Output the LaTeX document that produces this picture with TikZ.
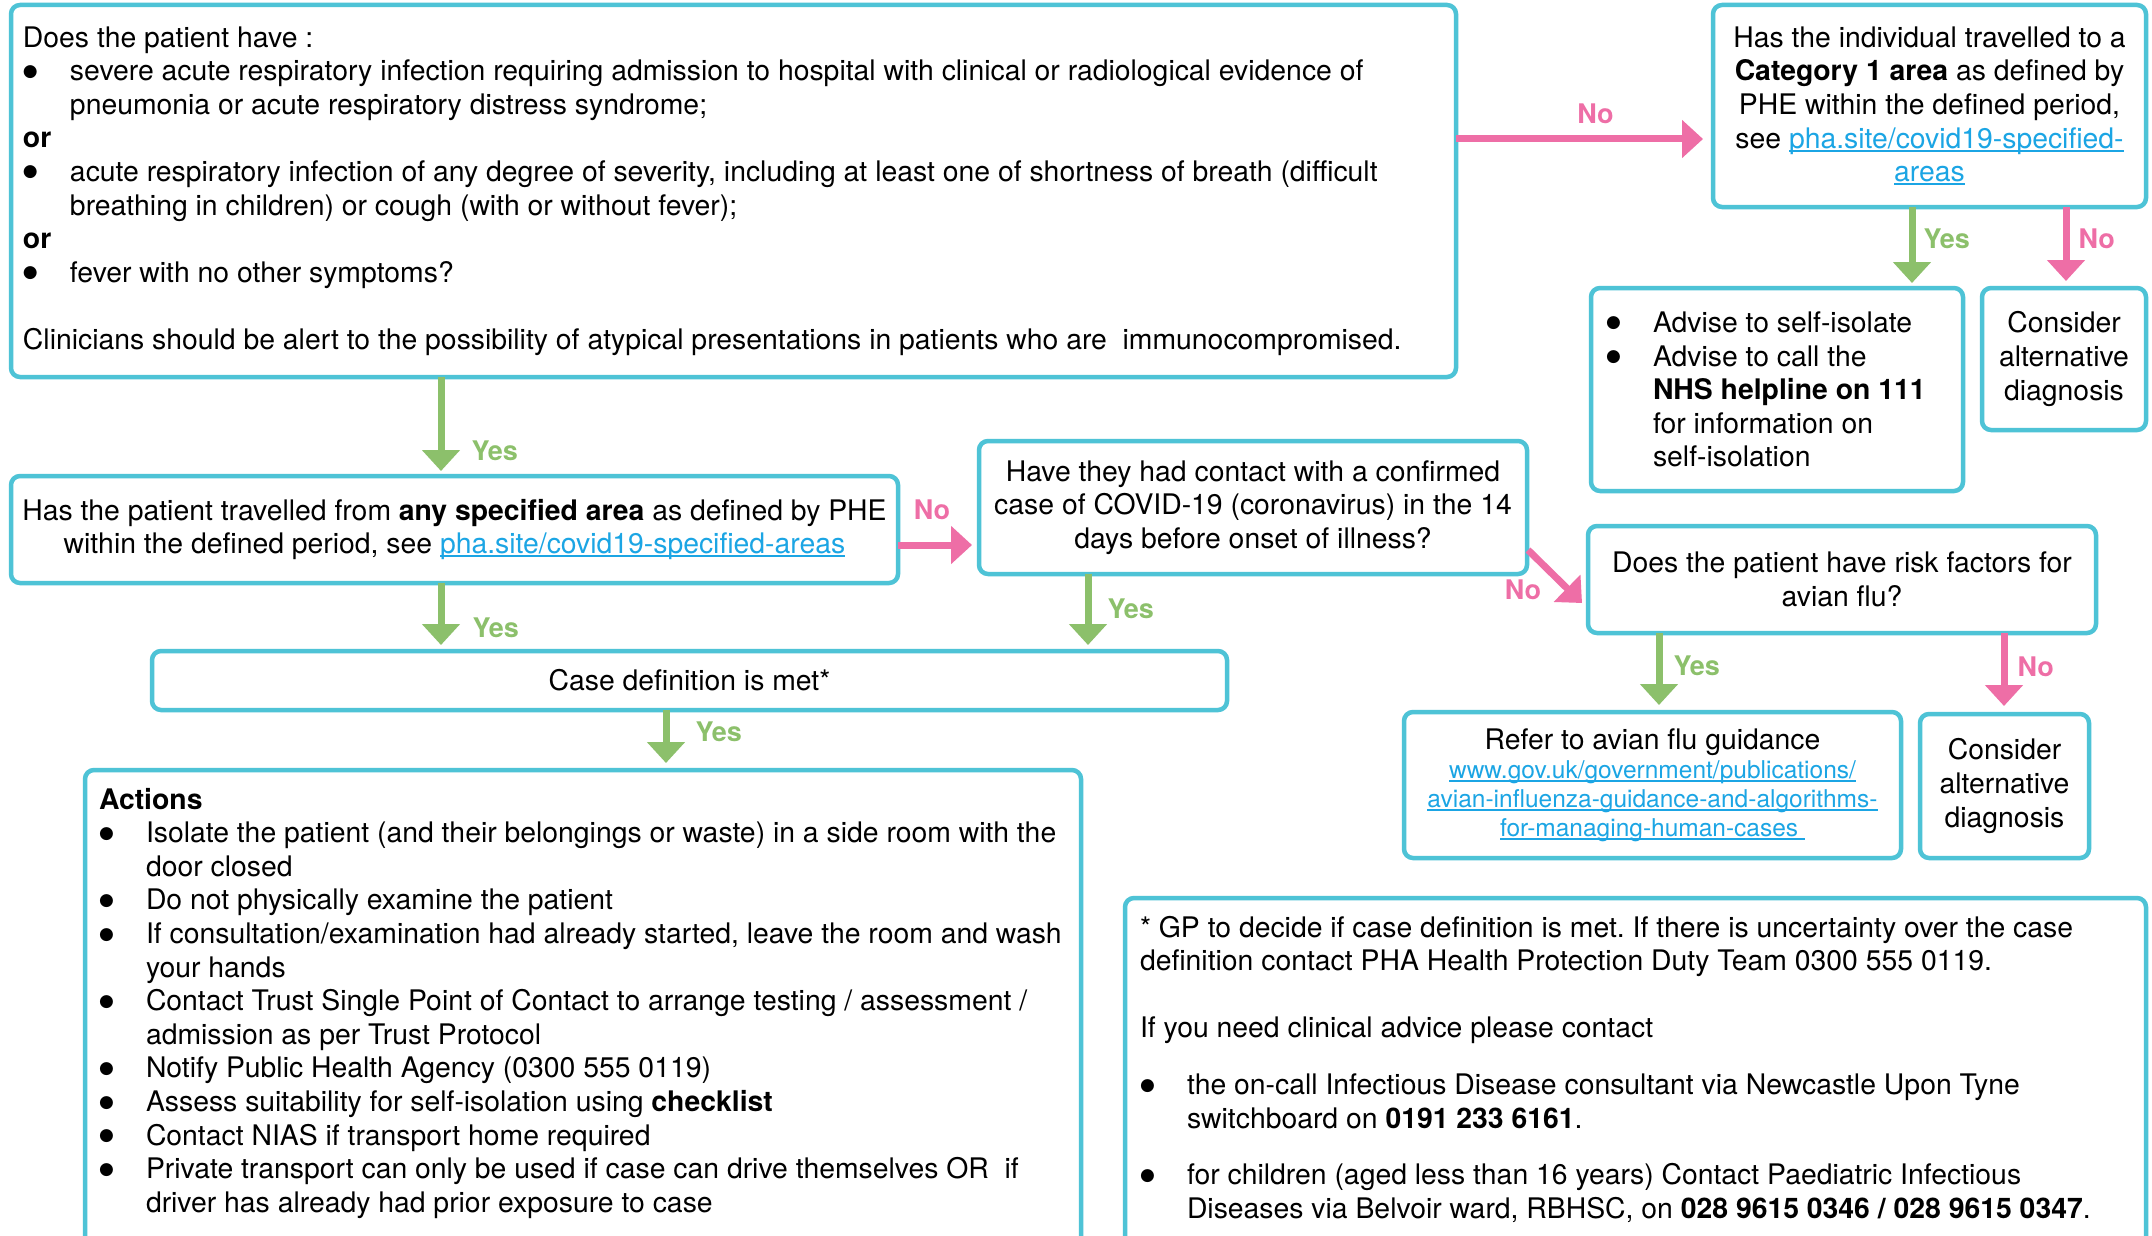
\documentclass[tikz,border=0pt]{standalone}
\usepackage{fontspec}
\setmainfont{TeX Gyre Heros}
\newfontfamily\dotfont{DejaVu Sans}
\usetikzlibrary{arrows.meta,calc}
\definecolor{boxcyan}{HTML}{4EC3D6}
\definecolor{nopink}{HTML}{EE6EA6}
\definecolor{yesgreen}{HTML}{8CC06B}
\definecolor{linkblue}{HTML}{1BA5E4}
\frenchspacing
\newcommand{\bodyfont}{\fontsize{28.35pt}{33.6pt}\selectfont}
\newcommand{\linkfont}{\fontsize{24.5pt}{29pt}\selectfont}
\newcommand{\bitem}[1]{\noindent\hangindent=47pt\hangafter=1\makebox[47pt][l]{\raisebox{4.5pt}{\dotfont\fontsize{17pt}{20pt}\selectfont ●}}#1\par}
\newcommand{\lnk}[1]{\textcolor{linkblue}{\setbox0\hbox{#1}\rlap{\rule[-3.5pt]{\wd0}{2pt}}\box0}}
\tikzset{box node/.style={draw=boxcyan,line width=4.5pt,rounded corners=9pt,anchor=north west,outer sep=0pt,inner xsep=12pt,inner ysep=0pt,font=\bodyfont},
         yes edge/.style={draw=yesgreen,line width=7pt,-{Triangle[width=37pt,length=21pt]}},
         no edge/.style={draw=nopink,line width=7pt,-{Triangle[width=37pt,length=21pt]}},
         edge label/.style={font=\bfseries\fontsize{27pt}{30pt}\selectfont,inner sep=2pt},
         yes label/.style={edge label,text=yesgreen},
         no label/.style={edge label,text=nopink}
}

\begin{document}
\begin{tikzpicture}[x=1pt,y=-1pt]
\clip (0,0) rectangle (2152,1236);
\fill[white] (0,0) rectangle (2152,1236);
% \draw[help lines,step=100] (0,0) grid (2152,1236);
\node[box node,minimum width=1445pt,minimum height=372pt,text width=1421pt,align=flush left] (0) at (11,5) {Does the patient have :\par
\bitem{severe acute respiratory infection requiring admission to hospital with clinical or radiological evidence of\newline pneumonia or acute respiratory distress syndrome;}
\textbf{or}\par
\bitem{acute respiratory infection of any degree of severity, including at least one of shortness of breath (difficult\newline breathing in children) or cough (with or without fever);}
\textbf{or}\par
\bitem{fever with no other symptoms?}
\vspace{33.6pt}
Clinicians should be alert to the possibility of atypical presentations in patients who are\ \ immunocompromised.};
\node[box node,minimum width=433pt,minimum height=202pt,text width=409pt,align=flush center] (1) at (1713,5) {Has the individual travelled to a\\ \textbf{Category 1 area} as defined by\\ PHE within the defined period,\\ see \lnk{pha.site/covid19-specified-}\\ \lnk{areas}};
\node[box node,minimum width=372pt,minimum height=203pt,text width=342pt,inner xsep=15pt,align=flush left] (2) at (1591,288) {\bitem{Advise to self-isolate}\bitem{Advise to call the\newline \textbf{NHS helpline on 111}\newline for information on\newline self-isolation}};
\node[box node,minimum width=164pt,minimum height=142pt,text width=156pt,inner xsep=4pt,align=flush center] (3) at (1982,288) {Consider\\ alternative\\ diagnosis};
\node[box node,minimum width=887pt,minimum height=107pt,text width=871pt,inner xsep=8pt,align=flush center] (4) at (11,476) {Has the patient travelled from \textbf{any specified area} as defined by PHE\\ within the defined period, see \lnk{pha.site/covid19-specified-areas}};
\node[box node,minimum width=548pt,minimum height=133pt,text width=524pt,align=flush center] (5) at (979,441) {Have they had contact with a confirmed\\ case of COVID-19 (coronavirus) in the 14\\ days before onset of illness?};
\node[box node,minimum width=1075pt,minimum height=59pt,text width=1051pt,align=flush center] (6) at (152,651) {Case definition is met*};
\node[box node,text width=988pt,inner xsep=4pt,inner ysep=18pt,align=flush left] (7) at (85,770) {\leftskip=10pt \textbf{Actions}\par
\bitem{Isolate the patient (and their belongings or waste) in a side room with the\newline door closed}
\bitem{Do not physically examine the patient}
\bitem{If consultation/examination had already started, leave the room and wash\newline your hands}
\bitem{Contact Trust Single Point of Contact to arrange testing / assessment /\newline admission as per Trust Protocol}
\bitem{Notify Public Health Agency (0300 555 0119)}
\bitem{Assess suitability for self-isolation using \textbf{checklist}}
\bitem{Contact NIAS if transport home required}
\bitem{Private transport can only be used if case can drive themselves OR\ \ if\newline driver has already had prior exposure to case}
\vspace{60pt}\mbox{}};
\node[box node,minimum width=508pt,minimum height=107pt,text width=484pt,align=flush center] (8) at (1588,526) {Does the patient have risk factors for\\ avian flu?};
\node[box node,minimum width=497pt,minimum height=146pt,text width=473pt,align=flush center] (9) at (1404,712) {Refer to avian flu guidance\\ {\linkfont \lnk{www.gov.uk/government/publications/}\\ \lnk{avian-influenza-guidance-and-algorithms-}\\ \lnk{for-managing-human-cases\ }\par}};
\node[box node,minimum width=169pt,minimum height=144pt,text width=157pt,inner xsep=6pt,align=flush center] (10) at (1920,714) {Consider\\ alternative\\ diagnosis};
\node[box node,text width=991pt,inner xsep=15pt,inner ysep=18pt,align=flush left] (11) at (1125,898) {* GP to decide if case definition is met. If there is uncertainty over the case\newline definition contact PHA Health Protection Duty Team 0300 555 0119.\par
\vspace{33.6pt}
If you need clinical advice please contact\par
\vspace{23pt}
\bitem{the on-call Infectious Disease consultant via Newcastle Upon Tyne\newline switchboard on \textbf{0191 233 6161}.}
\vspace{23pt}
\bitem{for children (aged less than 16 years) Contact Paediatric Infectious\newline Diseases via Belvoir ward, RBHSC, on \textbf{028 9615 0346 / 028 9615 0347}.}
\vspace{60pt}\mbox{}};

\draw[no edge] ($(0.north east)+(0,134)$) -- node[no label,pos=0.565,above=10pt] {No} ($(1.north west)+(-10,134)$);
\draw[yes edge] ($(1.south west)+(199,0)$) -- node[yes label,pos=0.42,right=6pt] {Yes} ($(1.south west |- 2.north)+(199,-5)$);
\draw[no edge] ($(1.south east)+(-80,0)$) -- node[no label,pos=0.43,right=7pt] {No} ($(1.south east |- 3.north)+(-80,-7)$);
\draw[yes edge] ($(0.south west)+(430,0)$) -- node[yes label,pos=0.78,right=25pt] {Yes} ($(0.south west |- 4.north)+(430,-5)$);
\draw[no edge] ($(4.north east)+(0,69)$) -- node[no label,pos=0.46,above=20pt] {No} ($(4.north east -| 5.west)+(-7,69)$);
\draw[yes edge] ($(4.south west)+(430,0)$) -- node[yes label,pos=0.73,right=26pt] {Yes} ($(4.south west |- 6.north)+(430,-6)$);
\draw[yes edge] ($(5.south west)+(109,0)$) -- node[yes label,pos=0.49,right=14pt] {Yes} ($(5.south west |- 6.north)+(109,-6)$);
\draw[yes edge] ($(6.south west)+(514,0)$) -- node[yes label,pos=0.42,right=24pt] {Yes} ($(6.south west |- 7.north)+(514,-7)$);
\draw[no edge] ($(5.north east)+(1,109)$) -- node[no label,pos=0.75,left=22pt] {No} ($(8.south west)+(-6,-30)$);
\draw[yes edge] ($(8.south west)+(71,0)$) -- node[yes label,pos=0.46,right=9pt] {Yes} ($(8.south west |- 9.north)+(71,-7)$);
\draw[no edge] ($(8.south east)+(-92,0)$) -- node[no label,pos=0.46,right=8pt] {No} ($(8.south east |- 10.north)+(-92,-8)$);

\end{tikzpicture}
\end{document}
